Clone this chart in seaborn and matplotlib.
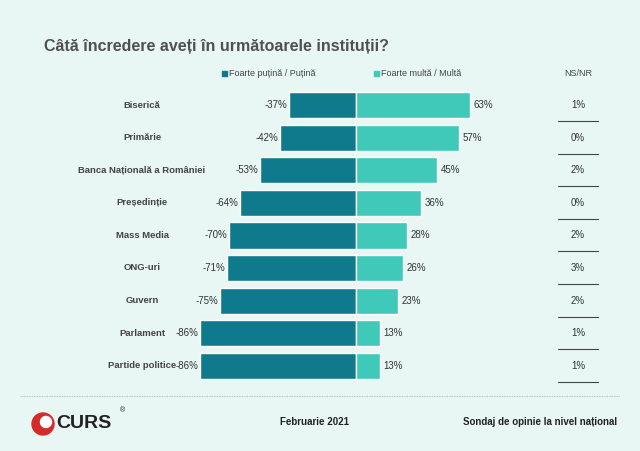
import numpy as np
import pandas as pd
import matplotlib
matplotlib.use("Agg")
import matplotlib.pyplot as plt
import seaborn as sns

institutions = ["Biserică", "Primărie", "Banca Națională a României", "Președinție",
                "Mass Media", "ONG-uri", "Guvern", "Parlament", "Partide politice"]
low_trust = [-37, -42, -53, -64, -70, -71, -75, -86, -86]
high_trust = [63, 57, 45, 36, 28, 26, 23, 13, 13]
ns_nr = [1, 0, 2, 0, 2, 3, 2, 1, 1]

DARK = "#0f7a8c"
LIGHT = "#3ec9b9"
BG = "#e8f6f4"

sns.set_style("white")
plt.rcParams['font.family'] = ['Liberation Sans', 'DejaVu Sans']

W, H = 640, 451
fig = plt.figure(figsize=(6.4, 4.51), dpi=100)
fig.patch.set_facecolor(BG)

def fx(px):
    return px / W

def fy(py):
    return 1 - py / H

# axes from x=190..490 px, y=89..382 px
ax = fig.add_axes([fx(190), fy(382), fx(300), (382 - 89) / H])
ax.set_facecolor("none")
df = pd.DataFrame({"inst": institutions, "low": low_trust, "high": high_trust})
sns.barplot(data=df, y="inst", x="low", color=DARK, ax=ax, width=0.8, saturation=1, orient="h")
sns.barplot(data=df, y="inst", x="high", color=LIGHT, ax=ax, width=0.8, saturation=1, orient="h")
x0 = -(356 - 190) / 1.81
ax.set_xlim(x0, x0 + 300 / 1.81)
ax.set_ylim(8.5, -0.5)
ax.axis("off")

for i, (lo, hi) in enumerate(zip(low_trust, high_trust)):
    ax.text(lo - 1, i, f"{lo}%", ha="right", va="center", fontsize=7, color="#333333")
    ax.text(hi + 2, i, f"{hi}%", ha="left", va="center", fontsize=7, color="#333333")

row_px = 32.6
for i, (name, n) in enumerate(zip(institutions, ns_nr)):
    y = 105 + i * row_px
    fig.text(fx(142), fy(y), name, ha="center", va="center", fontsize=6.8,
             fontweight="bold", color="#444444")
    fig.text(fx(578), fy(y), f"{n}%", ha="center", va="center", fontsize=7, color="#333333")
    fig.add_artist(plt.Line2D([fx(558), fx(598)], [fy(y + 16), fy(y + 16)],
                              color="#444444", lw=0.8))

fig.text(fx(44), fy(47), "Câtă încredere aveți în următoarele instituții?", ha="left",
         va="center", fontsize=11.5, fontweight="bold", color="#505050")

# legend
fig.patches.append(plt.Rectangle((fx(222), fy(76)), fx(5), 5 / H, color=DARK,
                                 transform=fig.transFigure, figure=fig))
fig.text(fx(229), fy(73), "Foarte puțină / Puțină", ha="left", va="center", fontsize=6.5, color="#444444")
fig.patches.append(plt.Rectangle((fx(374), fy(76)), fx(5), 5 / H, color=LIGHT,
                                 transform=fig.transFigure, figure=fig))
fig.text(fx(381), fy(73), "Foarte multă / Multă", ha="left", va="center", fontsize=6.5, color="#444444")
fig.text(fx(578), fy(73), "NS/NR", ha="center", va="center", fontsize=6.5, color="#444444")

# footer
fig.add_artist(plt.Line2D([fx(20), fx(620)], [fy(396), fy(396)], color="#aaaaaa",
                          lw=0.6, ls=(0, (1, 1))))
# logo (inch coordinates keep the circle round)
fig.add_artist(matplotlib.patches.Circle((0.43, (H - 424) / 100), 0.11, color="#d42a2a",
                                         transform=fig.dpi_scale_trans))
fig.add_artist(matplotlib.patches.Circle((0.46, (H - 422) / 100), 0.055, color="white",
                                         transform=fig.dpi_scale_trans))
fig.text(fx(56), fy(423), "CURS", ha="left", va="center", fontsize=14, fontweight="heavy", color="#222222")
fig.text(fx(120), fy(411), "®", ha="left", va="center", fontsize=5, color="#222222")
fig.text(fx(315), fy(422), "Februarie 2021", ha="center", va="center", fontsize=7,
         fontweight="bold", color="#222222")
fig.text(fx(617), fy(422), "Sondaj de opinie la nivel național", ha="right", va="center",
         fontsize=7, fontweight="bold", color="#222222")

fig.savefig("out.png", dpi=100, facecolor=BG)
